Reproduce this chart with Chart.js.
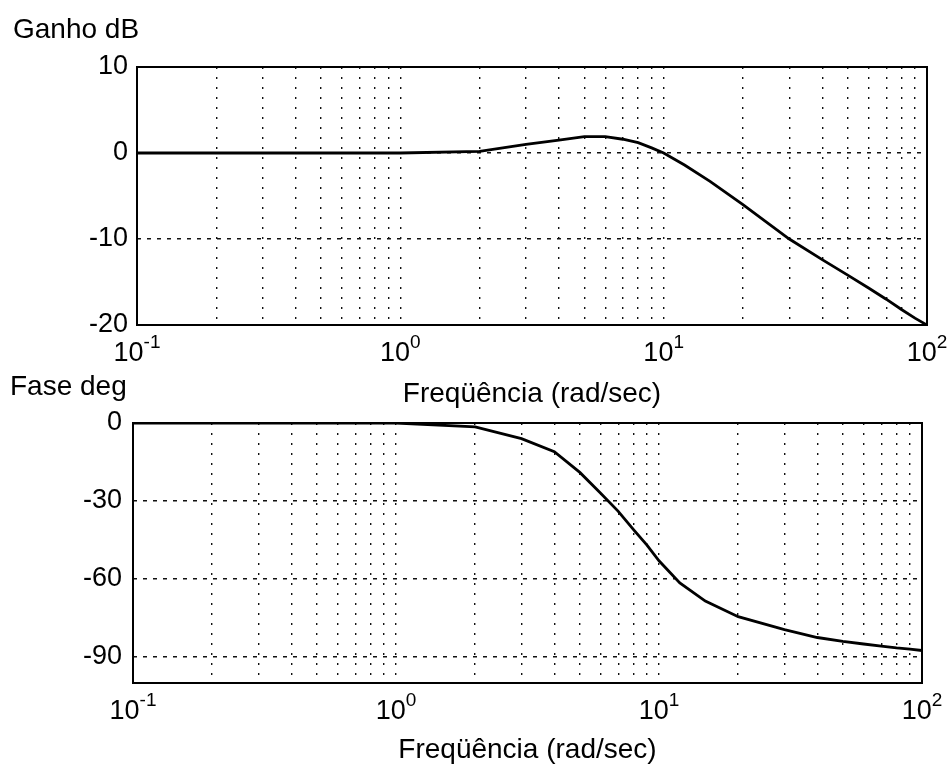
<!DOCTYPE html>
<html>
<head>
<meta charset="utf-8">
<title>Bode</title>
<script src="https://cdn.jsdelivr.net/npm/chart.js@4.4.1/dist/chart.umd.min.js"></script>
<style>
  html, body { margin: 0; padding: 0; background: #fff; }
  body { width: 949px; height: 768px; position: relative; overflow: hidden; }
  canvas { position: absolute; left: 0; }
  #gainChart { top: 0; }
  #phaseChart { top: 360px; }
</style>
</head>
<body>
<canvas id="gainChart" width="949" height="415"></canvas>
<canvas id="phaseChart" width="949" height="408"></canvas>
<script>
// dados
const freq = [0.1, 0.2, 0.3, 0.4, 0.5, 0.6, 0.7, 0.8, 0.9, 1, 2, 3, 4, 5, 6, 7, 8, 9, 10, 12, 15, 20, 30, 40, 50, 60, 70, 80, 90, 100];
const gainDb = [0, 0, 0, 0, 0, 0, 0, 0, 0, 0, 0.2, 1.0, 1.5, 1.9, 1.9, 1.6, 1.2, 0.6, 0, -1.4, -3.3, -6.0, -10.0, -12.4, -14.2, -15.7, -17.0, -18.2, -19.2, -20.0];
const phaseDeg = [0, 0, 0, 0, 0, 0, 0, 0, 0, 0, -1.5, -6, -11, -19, -27, -34, -41, -47, -53, -61.5, -68.5, -74.5, -79.5, -82.5, -84, -85, -85.8, -86.5, -87, -87.5];

// grade e rótulos dos eixos
const freqGrid = [0.1, 0.2, 0.3, 0.4, 0.5, 0.6, 0.7, 0.8, 0.9,
                  1, 2, 3, 4, 5, 6, 7, 8, 9,
                  10, 20, 30, 40, 50, 60, 70, 80, 90, 100];
const decades = [0.1, 1, 10, 100];
const decadeExp = ['-1', '0', '1', '2'];
const gainTicks = [10, 0, -10, -20];
const phaseTicks = [0, -30, -60, -90];

const FONT = '"Liberation Sans", Arial, Helvetica, sans-serif';

// moldura preta em volta da área do gráfico
const frame = {
  id: 'frame',
  afterDraw(chart) {
    const { ctx, chartArea: a } = chart;
    ctx.save();
    ctx.strokeStyle = '#000';
    ctx.lineWidth = 2;
    ctx.setLineDash([]);
    ctx.strokeRect(a.left, a.top, a.right - a.left, a.bottom - a.top);
    ctx.restore();
  }
};

// rótulos 10^n no eixo x
const decadeLabels = {
  id: 'decadeLabels',
  afterDraw(chart) {
    const { ctx, chartArea, scales } = chart;
    const x = scales.x;
    const y = chartArea.bottom + 36;
    ctx.save();
    ctx.fillStyle = '#000';
    ctx.textBaseline = 'alphabetic';
    ctx.textAlign = 'left';
    decades.forEach((v, i) => {
      const px = x.getPixelForValue(v);
      ctx.font = '27px ' + FONT;
      const wBase = ctx.measureText('10').width;
      ctx.font = '19px ' + FONT;
      const wExp = ctx.measureText(decadeExp[i]).width;
      const left = px - (wBase + wExp) / 2;
      ctx.font = '27px ' + FONT;
      ctx.fillText('10', left, y);
      ctx.font = '19px ' + FONT;
      ctx.fillText(decadeExp[i], left + wBase, y - 13);
    });
    ctx.restore();
  }
};

// texto no canto superior (Ganho dB / Fase deg)
const cornerText = {
  id: 'cornerText',
  afterDraw(chart, args, opts) {
    const ctx = chart.ctx;
    ctx.save();
    ctx.fillStyle = '#000';
    ctx.font = '28px ' + FONT;
    ctx.textBaseline = 'alphabetic';
    ctx.textAlign = 'left';
    ctx.fillText(opts.text, opts.x, opts.y);
    ctx.restore();
  }
};

function makeBode(canvasId, values, yMin, yMax, yTicks, cfg) {
  const ctx = document.getElementById(canvasId).getContext('2d');
  return new Chart(ctx, {
    type: 'line',
    data: {
      datasets: [{
        data: freq.map((f, i) => ({ x: f, y: values[i] })),
        borderColor: '#000',
        borderWidth: 2.8,
        pointRadius: 0,
        tension: 0,
        fill: false
      }]
    },
    options: {
      responsive: false,
      animation: false,
      devicePixelRatio: 1,
      layout: { padding: { left: 0, right: cfg.padRight, top: cfg.padTop, bottom: 0 } },
      plugins: {
        legend: { display: false },
        tooltip: { enabled: false },
        cornerText: { text: cfg.label, x: cfg.labelX, y: cfg.labelY }
      },
      scales: {
        x: {
          type: 'logarithmic',
          min: 0.1,
          max: 100,
          afterBuildTicks: s => { s.ticks = freqGrid.map(v => ({ value: v })); },
          afterFit: s => { s.height = cfg.xHeight; },
          ticks: { display: false },
          grid: { color: '#111', lineWidth: 1.4, drawTicks: false },
          border: { display: false, dash: [2, 8] },
          title: {
            display: true,
            text: 'Freqüência (rad/sec)',
            color: '#000',
            font: { family: FONT, size: 28 },
            padding: { top: 0, bottom: cfg.titlePad }
          }
        },
        y: {
          min: yMin,
          max: yMax,
          afterBuildTicks: s => { s.ticks = yTicks.map(v => ({ value: v })); },
          afterFit: s => { s.width = cfg.yWidth; },
          ticks: {
            color: '#000',
            padding: cfg.yPad,
            font: { family: FONT, size: 27 },
            callback: v => String(v)
          },
          grid: { color: '#111', lineWidth: 1.4, drawTicks: false },
          border: { display: false, dash: [4, 6] }
        }
      }
    },
    plugins: [frame, decadeLabels, cornerText]
  });
}

makeBode('gainChart', gainDb, -20, 10, gainTicks, {
  padTop: 67, padRight: 22, xHeight: 90, yWidth: 137, yPad: 9, titlePad: 4,
  label: 'Ganho dB', labelX: 13, labelY: 38
});

makeBode('phaseChart', phaseDeg, -100, 0, phaseTicks, {
  padTop: 63, padRight: 27, xHeight: 85, yWidth: 133, yPad: 11, titlePad: 1,
  label: 'Fase deg', labelX: 10, labelY: 35
});
</script>
</body>
</html>
